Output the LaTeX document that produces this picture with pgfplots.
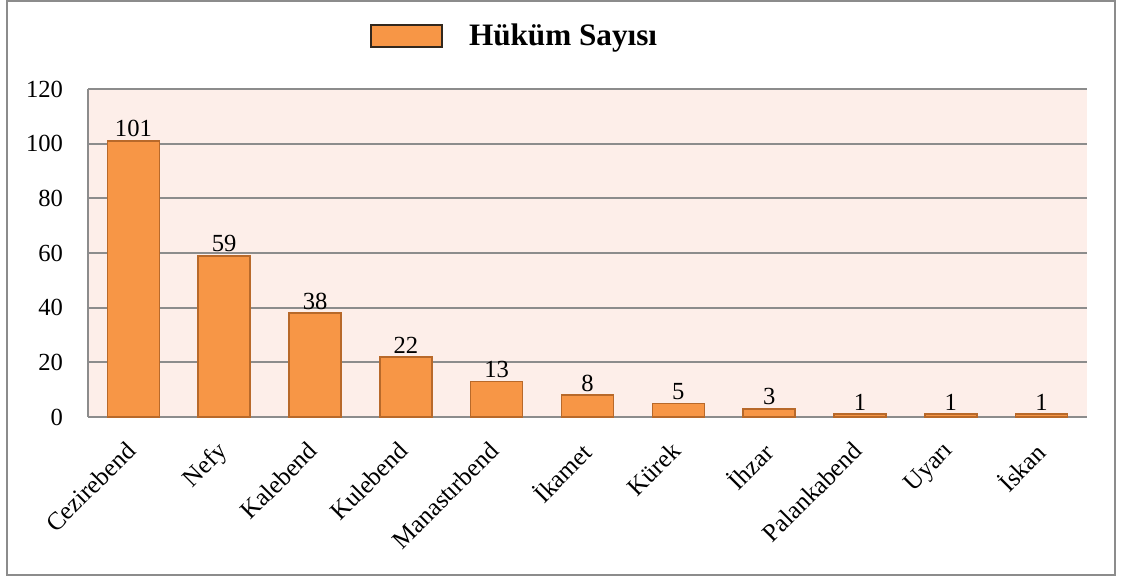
\documentclass[border=0pt]{standalone}
\usepackage{fontspec}
\setmainfont{Liberation Serif}
\usepackage{pgfplots}
\pgfplotsset{compat=1.18}
\definecolor{barfill}{HTML}{F79646}
\definecolor{baredge}{HTML}{B8692A}
\definecolor{bgpink}{HTML}{FDEEE9}
\definecolor{gridgray}{HTML}{8C8C8C}
\definecolor{framegray}{HTML}{8C8C8C}
\begin{document}
\begin{tikzpicture}
\useasboundingbox (0,0) rectangle (561pt,289.5pt);
\draw[framegray, line width=1pt] (3.5pt,2pt) rectangle (557.5pt,289pt);
\begin{axis}[
  at={(44pt,81pt)}, anchor=south west,
  scale only axis, width=499.5pt, height=164pt,
  ybar, bar width=26pt,
  xmin=-0.5, xmax=10.5, ymin=0, ymax=120,
  ytick={0,20,...,120},
  xtick={0,...,10},
  xticklabels={Cezirebend,Nefy,Kalebend,Kulebend,Manastırbend,İkamet,Kürek,İhzar,Palankabend,Uyarı,İskan},
  xticklabel style={rotate=45, anchor=north east, font=\fontsize{12.6}{14}\selectfont, xshift=-7.7pt, yshift=-1.6pt},
  yticklabel style={font=\fontsize{12.3}{14}\selectfont, xshift=-9pt},
  /pgf/number format/assume math mode=true,
  major tick length=0pt,
  axis lines*=left,
  axis line style={gridgray, line width=0.9pt},
  ymajorgrids, grid style={gridgray, line width=0.9pt},
  axis background/.style={fill=bgpink},
  clip=false,
  nodes near coords,
  every node near coord/.append style={font=\fontsize{12.3}{14}\selectfont, black, anchor=south, inner sep=1.5pt},
  legend style={at={(0.2823,1.1616)}, anchor=west, draw=none, fill=none, inner sep=0pt,
    font=\fontsize{15.6}{18}\selectfont\bfseries,
    /tikz/every odd column/.append style={column sep=11pt}},
  legend image code/.code={\draw[fill=barfill, draw={rgb,255:red,50;green,40;blue,30}, line width=0.8pt] (0pt,-5.5pt) rectangle (35.5pt,5.5pt);},
]
\addplot[fill=barfill, draw=baredge, line width=0.8pt] coordinates {
(0,101) (1,59) (2,38) (3,22) (4,13) (5,8) (6,5) (7,3) (8,1) (9,1) (10,1)};
\addlegendentry{Hüküm Sayısı}
\end{axis}
\end{tikzpicture}
\end{document}
